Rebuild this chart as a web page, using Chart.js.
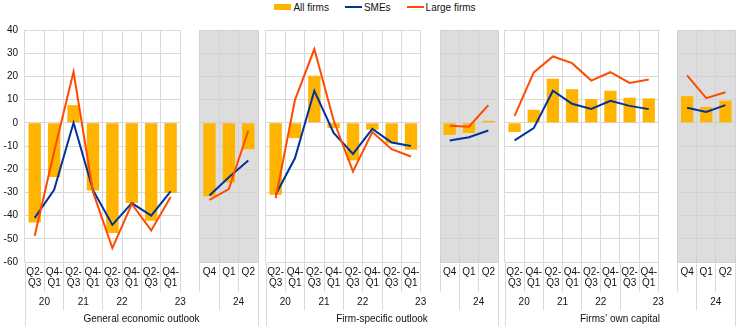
<!DOCTYPE html>
<html>
<head>
<meta charset="utf-8">
<script src="https://cdn.jsdelivr.net/npm/chart.js@4.4.1/dist/chart.umd.min.js"></script>
<style>
  html, body { margin: 0; padding: 0; background: #fff; }
  body { width: 744px; height: 334px; position: relative; overflow: hidden; font-family: "Liberation Sans", Arial, sans-serif; }
  canvas { position: absolute; top: 0; }
  #legend { position: absolute; top: 0; left: 0; width: 744px; height: 14px; display: flex; justify-content: center; align-items: center; font-size: 10px; color: #111; padding-left: 6px; box-sizing: border-box; }
  .item { display: flex; align-items: center; margin: 0 8px; }
  .sw { display: inline-block; width: 17px; margin-right: 2px; }
</style>
</head>
<body>
<div id="legend">
  <span class="item"><span class="sw" style="height:6px;background:#FFB400"></span>All firms</span>
  <span class="item"><span class="sw" style="height:2px;background:#003299"></span>SMEs</span>
  <span class="item"><span class="sw" style="height:2px;background:#FF4B00"></span>Large firms</span>
</div>
<canvas id="c1" width="262" height="334" style="left:0px;width:262px;height:334px"></canvas>
<canvas id="c2" width="239" height="334" style="left:262px;width:239px;height:334px"></canvas>
<canvas id="c3" width="243" height="334" style="left:501px;width:243px;height:334px"></canvas>
<script>
// ---- categories / tick labels ----
const mainCategories = [['Q2-','Q3'],['Q4-','Q1'],['Q2-','Q3'],['Q4-','Q1'],['Q2-','Q3'],['Q4-','Q1'],['Q2-','Q3'],['Q4-','Q1']];
const recentCategories = ['Q4','Q1','Q2'];
const years = ['20','21','22','23','24'];
const yearSpans = [[0,1],[2,3],[4,5],[6,9],[10,11]]; // category index spans (incl. gap slot 8)
const panelTitles = ['General economic outlook','Firm-specific outlook','Firms\u2019 own capital'];
const yTicks = [-60,-50,-40,-30,-20,-10,0,10,20,30,40];

// ---- General economic outlook ----
const econAll   = [-43, -23.4, 7.6, -29.2, -47.5, -34.6, -42.2, -30.3];
const econAllR  = [-31.7, -25.7, -11.4];
const econSME   = [-41, -28.9, 0, -29, -44, -34.6, -40, -29.6];
const econSMER  = [-31.3, -23.5, -16.2];
const econLarge = [-48.7, -12.5, 22, -29.8, -54, -35, -46.4, -32];
const econLargeR= [-33.2, -28.6, -3.3];

// ---- Firm-specific outlook ----
const firmAll   = [-31, -6.6, 20.3, -2.3, -16.2, -3, -8.8, -11.6];
const firmAllR  = [-5.2, -4.4, 0.8];
const firmSME   = [-31, -15.2, 13.8, -4.4, -13.4, -2.6, -8.5, -10];
const firmSMER  = [-7.6, -6.2, -3.3];
const firmLarge = [-32.5, 9.9, 31.8, 1, -21, -4, -11.4, -14.5];
const firmLargeR= [-1.3, -1.7, 7.6];

// ---- Firms' own capital ----
const capAll    = [-4, 5.6, 19, 14.5, 10.2, 13.8, 10.8, 10.5];
const capAllR   = [11.5, 6.8, 9.5];
const capSME    = [-7.6, -2.3, 13.8, 8.2, 6, 9.5, 7.3, 5.9];
const capSMER   = [6.5, 4.7, 7.6];
const capLarge  = [3, 21.7, 28.6, 25.7, 18.2, 21.8, 17.2, 18.7];
const capLargeR = [20.4, 10.6, 13.2];

const FONT = '"Liberation Sans", Arial, sans-serif';
const TXT = '#111';
const GRID = '#d9d9d9';
const labels = [...mainCategories, '', ...recentCategories];
const join = (a, r) => [...a, null, ...r];

const decorPlugin = {
  id: 'decor',
  beforeDraw(chart) {
    const {ctx, chartArea: ca, scales: {x}} = chart;
    const w = x.width / labels.length;
    const b = i => x.left + w * i;
    ctx.save();
    ctx.fillStyle = '#dddddd';
    const gx = Math.floor(b(9));
    ctx.fillRect(gx, ca.top, Math.ceil(b(12)) - gx, ca.bottom - ca.top);
    ctx.restore();
  },
  beforeDatasetsDraw(chart) {
    const {ctx, chartArea: ca, scales: {x, y}} = chart;
    const w = x.width / labels.length;
    const b = i => x.left + w * i;
    ctx.save();
    ctx.fillStyle = '#ffffff';
    const x0 = Math.floor(b(8)) + 1, x1 = Math.floor(b(9));
    ctx.fillRect(x0, ca.top - 2, x1 - x0, ca.bottom - ca.top + 4);
    // slightly darker grid inside the shaded block
    ctx.strokeStyle = '#d2d2d2';
    ctx.lineWidth = 1;
    const gx0 = Math.floor(b(9)), gx1 = Math.floor(b(12)) + 1;
    yTicks.forEach(v => {
      const yy = Math.floor(y.getPixelForValue(v)) + 0.5;
      ctx.beginPath(); ctx.moveTo(gx0, yy); ctx.lineTo(gx1, yy); ctx.stroke();
    });
    for (let i = 9; i <= 12; i++) {
      const xx = Math.floor(b(i)) + 0.5;
      ctx.beginPath(); ctx.moveTo(xx, ca.top); ctx.lineTo(xx, ca.bottom); ctx.stroke();
    }
    ctx.restore();
  },
  afterDraw(chart) {
    const {ctx, chartArea: ca, scales: {x}} = chart;
    const idx = chart.options.plugins.decor.panel;
    const w = x.width / labels.length;
    const b = i => x.left + w * i;
    const px = v => Math.floor(v) + 0.5;
    ctx.save();
    ctx.strokeStyle = GRID;
    ctx.lineWidth = 1;
    const line = (xx, y0, y1) => { ctx.beginPath(); ctx.moveTo(px(xx), y0); ctx.lineTo(px(xx), y1); ctx.stroke(); };
    for (let i = 0; i <= labels.length; i++) line(b(i), ca.bottom, ca.bottom + 30);
    [0, 2, 4, 6, 10, 12].forEach(i => line(b(i), ca.bottom + 30, ca.bottom + 48));
    line(b(0), ca.bottom, ca.bottom + 64);
    line(b(12), ca.bottom, ca.bottom + 64);
    ctx.fillStyle = TXT;
    ctx.font = '10px ' + FONT;
    ctx.textAlign = 'center';
    ctx.textBaseline = 'middle';
    years.forEach((yl, k) => {
      const [s, e] = yearSpans[k];
      ctx.fillText(yl, (b(s) + b(e + 1)) / 2, ca.bottom + 40);
    });
    ctx.fillText(panelTitles[idx], (b(0) + b(12)) / 2, ca.bottom + 57);
    ctx.restore();
  }
};

function makeChart(id, idx, all, allR, sme, smeR, large, largeR, showY, padL, padR) {
  return new Chart(document.getElementById(id), {
    type: 'bar',
    data: {
      labels: labels,
      datasets: [
        { type: 'line', label: 'Large firms', data: join(large, largeR), borderColor: '#FF4B00', backgroundColor: '#FF4B00', borderWidth: 2, pointRadius: 0, tension: 0, spanGaps: false, order: 1 },
        { type: 'line', label: 'SMEs', data: join(sme, smeR), borderColor: '#003299', backgroundColor: '#003299', borderWidth: 2, pointRadius: 0, tension: 0, spanGaps: false, order: 2 },
        { type: 'bar', label: 'All firms', data: join(all, allR), backgroundColor: '#FFB400', borderWidth: 0, barPercentage: 0.64, categoryPercentage: 1, order: 3 }
      ]
    },
    options: {
      responsive: false,
      animation: false,
      devicePixelRatio: 1,
      layout: { padding: { top: 30, bottom: 0, left: padL, right: padR } },
      plugins: { legend: { display: false }, tooltip: { enabled: false }, decor: { panel: idx } },
      scales: {
        x: {
          offset: true,
          grid: { offset: true, color: GRID, lineWidth: 1, drawTicks: false },
          border: { display: false },
          ticks: { autoSkip: false, maxRotation: 0, minRotation: 0, padding: 5, color: TXT, font: { family: FONT, size: 10, lineHeight: 1.1 } },
          afterFit: s => { s.height = 72; }
        },
        y: {
          display: showY ? true : 'auto',
          min: -60, max: 40,
          afterBuildTicks: s => { s.ticks = yTicks.map(v => ({ value: v })); },
          grid: { color: GRID, lineWidth: 1, drawTicks: false },
          border: { display: false },
          ticks: { display: showY, padding: 7, color: TXT, font: { family: FONT, size: 10 } },
          afterFit: s => { s.width = showY ? 25 : 0; }
        }
      }
    },
    plugins: [decorPlugin]
  });
}

makeChart('c1', 0, econAll, econAllR, econSME, econSMER, econLarge, econLargeR, true, 0, 4);
makeChart('c2', 1, firmAll, firmAllR, firmSME, firmSMER, firmLarge, firmLargeR, false, 4, 3);
makeChart('c3', 2, capAll, capAllR, capSME, capSMER, capLarge, capLargeR, false, 4, 9);
</script>
</body>
</html>
